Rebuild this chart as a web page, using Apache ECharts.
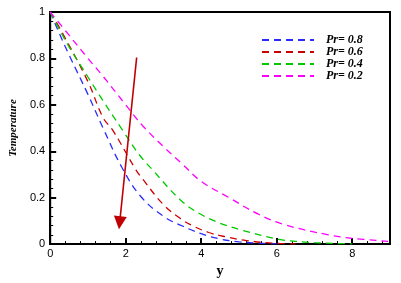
<!DOCTYPE html>
<html><head><meta charset="utf-8">
<script src="https://cdn.jsdelivr.net/npm/echarts@6/dist/echarts.min.js"></script>
<style>html,body{margin:0;padding:0;background:#fff}#c{width:401px;height:283px}</style>
</head><body><div id="c"></div>
<script>
var seriesNames = ['Pr= 0.8', 'Pr= 0.6', 'Pr= 0.4', 'Pr= 0.2'];
var pr08 = [[0,1],[0.25,0.905],[0.5,0.815],[1,0.645],[1.4,0.5],[1.9,0.33],[2.4,0.205],[3,0.12],[3.5,0.078],[4,0.045],[4.5,0.022],[5,0.01],[5.5,0.004],[6,0.001]];
var pr06 = [[0,1],[0.34,0.905],[1,0.7],[1.4,0.545],[1.66,0.49],[2.27,0.32],[2.45,0.28],[3,0.17],[3.45,0.11],[3.76,0.08],[4.2,0.05],[4.63,0.032],[5.2,0.015],[5.9,0.004],[6.5,0.001]];
var pr04 = [[0,1],[0.16,0.95],[0.5,0.85],[1,0.72],[1.39,0.62],[1.92,0.49],[2.36,0.385],[2.71,0.32],[3.45,0.19],[3.95,0.132],[4.5,0.09],[5.08,0.06],[6.05,0.02],[6.5,0.012],[7,0.006],[7.5,0.003],[8,0.001]];
var pr02 = [[0,1],[0.5,0.9],[1,0.8],[1.39,0.725],[2,0.6],[2.45,0.51],[3,0.42],[3.5,0.345],[4,0.27],[4.74,0.2],[5.5,0.13],[6.2,0.084],[7.37,0.04],[8,0.025],[8.95,0.012]];
var colors = ['#2b2bff', '#cc0000', '#00c800', '#ff00ff'];
var arrowFrom = [2.29, 0.804];
var arrowTo = [1.84, 0.092];
var xTicks = [0, 2, 4, 6, 8];
var yTicks = [0, 0.2, 0.4, 0.6, 0.8, 1];

var chart = echarts.init(document.getElementById('c'));
var data = [pr08, pr06, pr04, pr02];
var series = data.map(function (d, i) {
  var s = {
    name: seriesNames[i], type: 'line', data: d, smooth: 0.4, symbol: 'none',
    lineStyle: { color: colors[i], width: 1.3, type: [7, 5] },
    itemStyle: { color: colors[i] }
  };
  if (i === 0) {
    s.markLine = {
      silent: true, animation: false,
      symbol: ['none', 'triangle'], symbolSize: 13,
      label: { show: false },
      lineStyle: { color: '#c00000', width: 1.6, type: 'solid' },
      itemStyle: { color: '#c00000' },
      data: [[{ coord: arrowFrom }, { coord: arrowTo }]]
    };
  }
  return s;
});
chart.setOption({
  animation: false,
  grid: { left: 47, top: 12, right: 11, bottom: 20, show: true, borderColor: '#000', borderWidth: 2 },
  legend: {
    left: 256, top: 29, orient: 'vertical', itemWidth: 52, itemHeight: 10, itemGap: 0,
    data: seriesNames,
    itemStyle: { opacity: 0 },
    textStyle: { fontFamily: 'Liberation Serif', fontStyle: 'italic', fontWeight: 'bold', fontSize: 12, lineHeight: 11, color: '#000', padding: [0, 0, 0, 7] }
  },
  xAxis: {
    type: 'value', min: 0, max: 9, interval: 2,
    name: 'y', nameLocation: 'middle', nameGap: 14,
    nameTextStyle: { fontFamily: 'Liberation Serif', fontWeight: 'bold', fontSize: 14, color: '#000' },
    axisLine: { lineStyle: { color: '#000', width: 2 } },
    axisTick: { inside: true, length: 6, lineStyle: { color: '#000', width: 2 } },
    minorTick: { show: true, splitNumber: 5, length: 3, lineStyle: { color: '#000', width: 1 } },
    splitLine: { show: false },
    axisLabel: { margin: 4, fontFamily: 'Liberation Sans', fontSize: 11, color: '#000',
      formatter: function (v) { return xTicks.indexOf(v) >= 0 ? String(v) : ''; } }
  },
  yAxis: {
    type: 'value', min: 0, max: 1, interval: 0.2,
    name: 'Temperature', nameLocation: 'middle', nameGap: 29,
    nameTextStyle: { fontFamily: 'Liberation Serif', fontWeight: 'bold', fontStyle: 'italic', fontSize: 11, color: '#000' },
    axisLine: { lineStyle: { color: '#000', width: 2 } },
    axisTick: { inside: true, length: 6, lineStyle: { color: '#000', width: 2 } },
    minorTick: { show: true, splitNumber: 5, length: 3, lineStyle: { color: '#000', width: 1 } },
    splitLine: { show: false },
    axisLabel: { margin: 5, fontFamily: 'Liberation Sans', fontSize: 11, color: '#000',
      formatter: function (v) { return yTicks.indexOf(Math.round(v * 10) / 10) >= 0 ? String(Math.round(v * 10) / 10) : ''; } }
  },
  series: series
});
</script></body></html>
